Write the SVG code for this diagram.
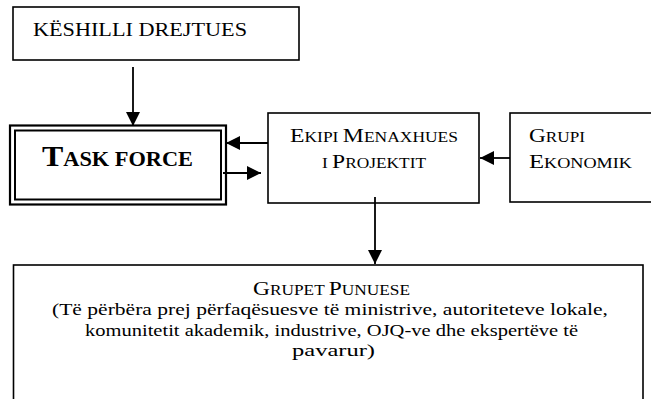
<svg xmlns="http://www.w3.org/2000/svg" width="651" height="399" viewBox="0 0 651 399">
<defs>
<style>
.box{fill:#fff;stroke:#000;stroke-width:1.6}
.t{font-family:"Liberation Serif","Times New Roman",serif;fill:#000}
.big{font-size:19px}
.sm{font-size:14px}
.conn line{stroke:#000;stroke-width:1.8}
</style>
<marker id="ah" viewBox="0 0 14 14" refX="14" refY="7" markerWidth="14" markerHeight="14" markerUnits="userSpaceOnUse" orient="auto">
<path d="M0,0 L14,7 L0,14 z" fill="#000"/>
</marker>
</defs>
<rect width="651" height="399" fill="#fff"/>
<g id="keshilli">
<rect class="box" x="13" y="7" width="286" height="53"/>
<text class="t" x="33" y="36" font-size="19" textLength="214" lengthAdjust="spacingAndGlyphs">KËSHILLI DREJTUES</text>
</g>
<g id="taskforce">
<rect x="10" y="125.5" width="216" height="79" fill="#fff" stroke="#000" stroke-width="2.2"/>
<rect x="15" y="130.5" width="206" height="69" fill="none" stroke="#000" stroke-width="2"/>
<text class="t" x="42" y="166" font-weight="bold" textLength="151" lengthAdjust="spacingAndGlyphs"><tspan font-size="30">T</tspan><tspan font-size="21">ASK FORCE</tspan></text>
</g>
<g id="ekipi">
<rect class="box" x="268" y="113" width="211" height="90"/>
<text class="t" x="374" y="142" text-anchor="middle" textLength="168" lengthAdjust="spacingAndGlyphs"><tspan class="big">E</tspan><tspan class="sm">KIPI </tspan><tspan class="big">M</tspan><tspan class="sm">ENAXHUES</tspan></text>
<text class="t" x="374" y="168" text-anchor="middle" textLength="104" lengthAdjust="spacingAndGlyphs"><tspan class="sm">I </tspan><tspan class="big">P</tspan><tspan class="sm">ROJEKTIT</tspan></text>
</g>
<g id="grupi">
<rect class="box" x="510" y="113" width="150" height="89"/>
<text class="t" x="529" y="142" textLength="56" lengthAdjust="spacingAndGlyphs"><tspan class="big">G</tspan><tspan class="sm">RUPI</tspan></text>
<text class="t" x="529" y="168" textLength="103" lengthAdjust="spacingAndGlyphs"><tspan class="big">E</tspan><tspan class="sm">KONOMIK</tspan></text>
</g>
<g id="grupet">
<rect class="box" x="13.5" y="265" width="629.5" height="145"/>
<text class="t" x="331.5" y="295" text-anchor="middle" textLength="157" lengthAdjust="spacingAndGlyphs"><tspan class="big">G</tspan><tspan class="sm">RUPET </tspan><tspan class="big">P</tspan><tspan class="sm">UNUESE</tspan></text>
<text class="t" x="330" y="315" font-size="17.5" text-anchor="middle" textLength="556" lengthAdjust="spacingAndGlyphs">(Të përbëra prej përfaqësuesve të ministrive, autoriteteve lokale,</text>
<text class="t" x="331.5" y="335.5" font-size="17.5" text-anchor="middle" textLength="493" lengthAdjust="spacingAndGlyphs">komunitetit akademik, industrive, OJQ-ve dhe ekspertëve të</text>
<text class="t" x="333.5" y="356" font-size="17.5" text-anchor="middle" textLength="83" lengthAdjust="spacingAndGlyphs">pavarur)</text>
</g>
<g id="connectors" class="conn">
<line x1="133" y1="67" x2="133" y2="126" marker-end="url(#ah)"/>
<line x1="268" y1="143" x2="226" y2="143" marker-end="url(#ah)"/>
<line x1="223" y1="173" x2="261" y2="173" marker-end="url(#ah)"/>
<line x1="510" y1="158" x2="480" y2="158" marker-end="url(#ah)"/>
<line x1="375" y1="197" x2="375" y2="264" marker-end="url(#ah)"/>
</g>
</svg>
